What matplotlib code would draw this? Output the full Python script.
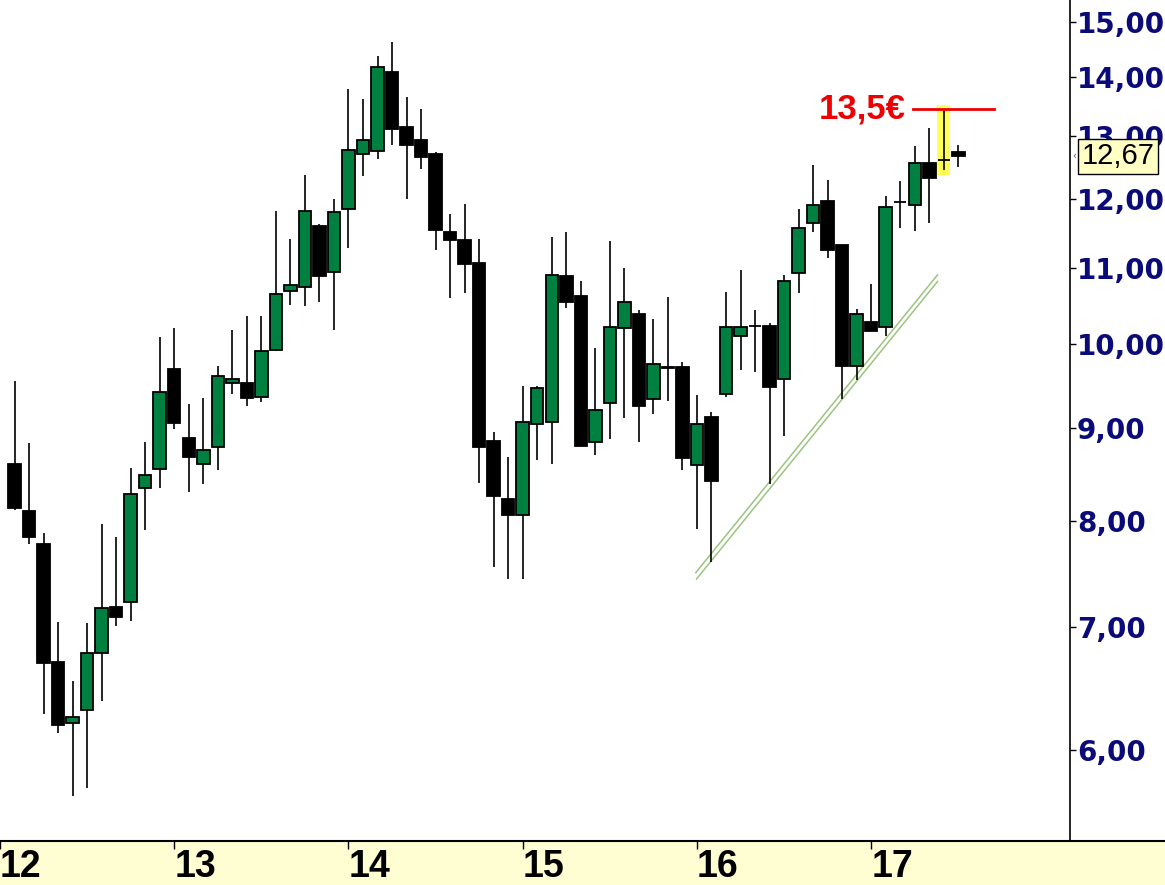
import numpy as np
import matplotlib
matplotlib.use('Agg')
import matplotlib.pyplot as plt
from matplotlib.patches import Rectangle
from matplotlib.lines import Line2D
from matplotlib.ticker import FixedLocator, NullLocator
import matplotlib.transforms as mtransforms


# monthly candles, month index 1 = Feb 2012
months = list(range(1, 67))
opens = [8.60, 8.10, 7.78, 6.70, 6.21, 6.31, 6.78, 7.18, 7.23, 8.34,
         8.54, 9.69, 8.89, 8.60, 8.78, 9.52, 9.52, 9.36, 9.93, 10.69,
         10.75, 11.60, 10.95, 11.85, 12.71, 12.75, 14.08, 13.14, 12.93, 12.70,
         11.52, 11.40, 11.08, 8.85, 8.23, 8.06, 9.04, 9.07, 10.90, 10.63,
         8.84, 9.28, 10.20, 10.39, 9.33, 9.70, 9.72, 8.59, 9.12, 9.39,
         10.10, 10.23, 10.23, 9.57, 10.93, 11.64, 11.97, 11.33, 9.73, 10.28,
         10.22, 11.96, 11.92, 12.56, 12.60, 12.73]
highs = [9.55, 8.83, 7.88, 7.05, 6.54, 7.04, 7.97, 7.84, 8.56, 8.84,
         10.09, 10.20, 9.27, 9.34, 9.73, 10.18, 10.36, 10.36, 11.82, 11.42,
         12.37, 11.63, 12.00, 13.78, 13.61, 14.37, 14.62, 13.64, 13.44, 12.74,
         11.78, 11.93, 11.42, 8.95, 8.68, 9.48, 9.49, 11.44, 11.52, 10.83,
         9.95, 11.38, 11.01, 10.44, 10.32, 10.61, 9.78, 9.38, 9.18, 10.68,
         10.98, 10.44, 10.27, 10.91, 11.85, 12.53, 12.30, 11.33, 10.45, 10.79,
         12.05, 12.28, 12.83, 13.12, 13.44, 12.85]
lows = [8.11, 7.78, 6.28, 6.13, 5.66, 5.72, 6.38, 7.01, 7.06, 7.91,
        8.34, 8.99, 8.30, 8.38, 8.53, 9.39, 9.25, 9.30, 9.91, 10.51,
        10.49, 10.54, 10.18, 11.28, 12.36, 12.63, 12.84, 12.01, 12.47, 11.25,
        10.60, 10.67, 8.40, 7.55, 7.44, 7.44, 8.64, 8.60, 10.47, 8.80,
        8.70, 8.87, 9.11, 8.84, 9.16, 9.31, 8.53, 7.92, 7.60, 9.36,
        9.68, 9.65, 8.39, 8.91, 10.67, 11.51, 11.14, 9.33, 9.56, 10.17,
        10.10, 11.58, 11.53, 11.65, 12.45, 12.50]
closes = [8.14, 7.84, 6.69, 6.19, 6.25, 6.78, 7.17, 7.09, 8.28, 8.48,
          9.42, 9.05, 8.68, 8.75, 9.61, 9.57, 9.34, 9.91, 10.65, 10.77,
          11.82, 10.90, 11.81, 12.76, 12.93, 14.17, 13.11, 12.84, 12.66, 11.55,
          11.40, 11.06, 8.78, 8.26, 8.06, 9.06, 9.46, 10.91, 10.54, 8.80,
          9.20, 10.22, 10.55, 9.25, 9.75, 9.71, 8.66, 9.04, 8.42, 10.22,
          10.22, 10.23, 9.47, 10.82, 11.57, 11.91, 11.26, 9.73, 10.39, 10.17,
          11.88, 11.96, 12.56, 12.32, 12.60, 12.67]

year_ticks = [0, 12, 24, 36, 48, 60]
year_labels = ['12', '13', '14', '15', '16', '17']
price_ticks = [6, 7, 8, 9, 10, 11, 12, 13, 14, 15]

# support lines, target level and highlighted month
trend_upper_x = [47.92, 64.57]
trend_upper_y = [7.50, 10.91]
trend_lower_x = [47.97, 64.57]
trend_lower_y = [7.44, 10.82]
target_price = 13.45
target_x = [62.87, 68.44]
highlight_month = 65
highlight_range = [12.37, 13.51]
last_price = 12.67

GREEN = '#008040'

fig = plt.figure(figsize=(11.65, 8.85), dpi=100)
fig.patch.set_facecolor('white')

# pale strip under the chart
fig.patches.append(Rectangle((0, 0), 1, 44 / 885, transform=fig.transFigure,
                             facecolor='#FFFDD2', edgecolor='none', zorder=0))

ax = fig.add_axes([0, 44 / 885, 1070 / 1165, 841 / 885])
ax.set_zorder(1)
ax.set_yscale('log')
ax.set_xlim(0, 1070 / 14.52)
ax.set_ylim(5.35, 15.42)

# candles
o = np.array(opens)
c = np.array(closes)
up = c >= o
ax.vlines(months, lows, highs, color='black', lw=1.2, zorder=2)
ax.bar(months, np.abs(c - o), bottom=np.minimum(o, c), width=0.86,
       color=np.where(up, GREEN, 'black'), edgecolor='black', lw=1.3, zorder=3)

# support channel
ax.plot(trend_upper_x, trend_upper_y, color='#9CC47E', lw=1.1, zorder=1)
ax.plot(trend_lower_x, trend_lower_y, color='#9CC47E', lw=1.1, zorder=1)

# highlight and target
ax.add_patch(Rectangle((highlight_month - 0.46, highlight_range[0]), 0.92,
                       highlight_range[1] - highlight_range[0],
                       facecolor='#FFFF55', edgecolor='none', zorder=1))
ax.plot(target_x, [target_price, target_price], color='#EE0000', lw=2, zorder=4)
ax.text(target_x[0] - 0.5, target_price, '13,5\u20ac', color='#EE0000',
        fontsize=25, fontweight='bold', family='Liberation Sans',
        ha='right', va='center', zorder=4)

# axes styling
for side in ['top', 'left', 'bottom']:
    ax.spines[side].set_visible(False)
ax.spines['right'].set_linewidth(1.2)
fig.lines.append(Line2D([0, 1], [44 / 885, 44 / 885], transform=fig.transFigure,
                        color='black', lw=1.5, zorder=3))

ax.yaxis.tick_right()
ax.yaxis.set_major_locator(FixedLocator(price_ticks))
ax.yaxis.set_minor_locator(NullLocator())
ax.set_yticklabels([f'{v:.2f}'.replace('.', ',') for v in price_ticks])
ax.tick_params(axis='y', direction='out', length=4, width=1, pad=1,
               labelsize=20, labelcolor='#0A0A78')
for lbl in ax.get_yticklabels():
    lbl.set_fontweight('bold')
    lbl.set_family('DejaVu Sans')

ax.xaxis.set_major_locator(FixedLocator(year_ticks))
ax.set_xticklabels(year_labels)
ax.tick_params(axis='x', direction='out', length=6, width=1, pad=0,
               labelsize=27)
for lbl in ax.get_xticklabels():
    lbl.set_ha('left')
    lbl.set_fontweight('bold')
    lbl.set_family('Liberation Sans')

# last price box
trans = mtransforms.blended_transform_factory(ax.transAxes, ax.transData)
ax.text(1.0112, last_price, '12,67', transform=trans, fontsize=21,
        family='Liberation Sans', color='black', ha='left', va='center',
        clip_on=False, zorder=6,
        bbox=dict(boxstyle='square,pad=0.12', fc='#FFFFC4', ec='black', lw=1))
ax.text(1.002, last_price, '\u2039', transform=trans, fontsize=7,
        color='#555555', ha='left', va='center', clip_on=False, zorder=6)

fig.savefig('out.png', dpi=100)
